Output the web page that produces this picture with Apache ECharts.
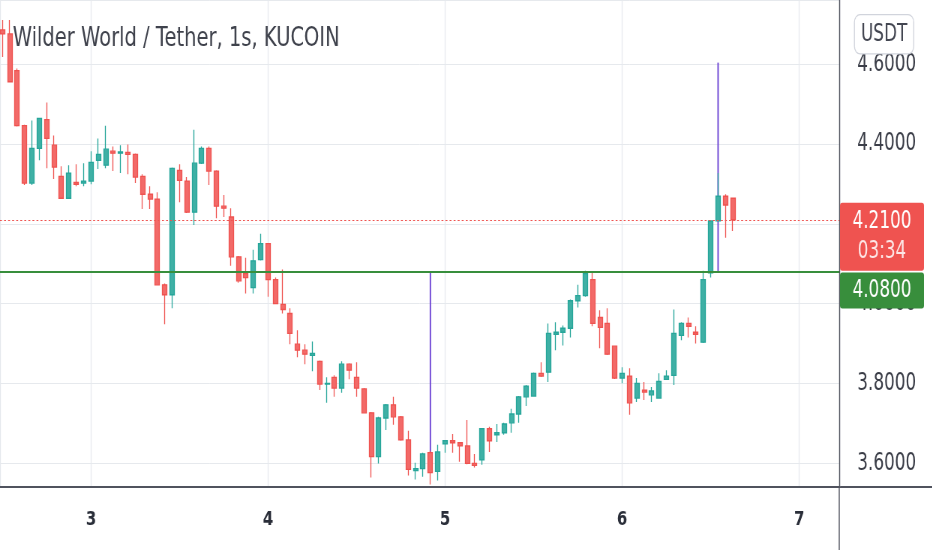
<!DOCTYPE html>
<html><head><meta charset="utf-8">
<script src="https://cdn.jsdelivr.net/npm/echarts@6/dist/echarts.min.js"></script>
<style>
html,body{margin:0;padding:0;background:#fff;overflow:hidden;width:932px;height:550px}
#c{width:1243px;height:550px;transform:scaleX(0.75);transform-origin:0 0}
</style>
</head><body><div id="c"></div>
<script>
// ---- data ----
const chartTitle = 'Wilder World / Tether, 1s, KUCOIN';
const currency = 'USDT';
const startTime = 2.5;      // first candle: day 2, 12:00
const hoursPerDay = 24;     // one candle per hour
const openP  = [4.686,4.676,4.584,4.446,4.302,4.389,4.461,4.397,4.319,4.264,4.304,4.302,4.307,4.359,4.347,4.382,4.377,4.379,4.374,4.319,
                4.274,4.262,4.047,4.022,4.334,4.307,4.229,4.352,4.389,4.332,4.244,4.217,4.117,4.075,4.040,4.110,4.150,4.060,3.998,3.975,
                3.898,3.883,3.870,3.855,3.798,3.815,3.788,3.848,3.815,3.786,3.726,3.616,3.713,3.746,3.716,3.658,3.581,3.586,3.626,3.579,
                3.648,3.656,3.651,3.643,3.599,3.608,3.686,3.671,3.676,3.701,3.723,3.766,3.768,3.825,3.828,3.923,3.928,3.938,4.007,4.020,
                4.060,3.965,3.950,3.893,3.813,3.818,3.763,3.783,3.771,3.763,3.810,3.820,3.920,3.950,3.928,3.903,4.077,4.207,4.269,4.264];
const closeP = [4.676,4.556,4.446,4.302,4.389,4.464,4.414,4.342,4.264,4.327,4.299,4.307,4.354,4.374,4.387,4.377,4.380,4.374,4.317,4.274,
                4.262,4.047,4.022,4.339,4.309,4.229,4.352,4.389,4.332,4.244,4.239,4.117,4.057,4.065,4.107,4.150,4.060,4.000,3.985,3.925,
                3.883,3.873,3.875,3.798,3.800,3.788,3.848,3.833,3.788,3.726,3.616,3.713,3.746,3.716,3.658,3.584,3.586,3.623,3.576,3.628,
                3.656,3.651,3.643,3.599,3.594,3.686,3.656,3.676,3.698,3.723,3.766,3.793,3.825,3.818,3.925,3.928,3.938,4.007,4.020,4.075,
                3.950,3.940,3.873,3.813,3.825,3.751,3.800,3.778,3.781,3.805,3.818,3.925,3.950,3.943,3.923,4.060,4.207,4.269,4.247,4.210];
const lowP   = [4.618,4.556,4.444,4.297,4.297,4.359,4.339,4.312,4.262,4.262,4.294,4.294,4.299,4.337,4.339,4.332,4.327,4.324,4.302,4.237,
                4.237,4.045,3.948,3.988,4.254,4.227,4.197,4.350,4.297,4.214,4.217,4.095,4.052,4.025,4.025,4.108,4.017,3.998,3.975,3.898,
                3.865,3.848,3.830,3.783,3.751,3.766,3.776,3.810,3.766,3.724,3.564,3.599,3.683,3.696,3.656,3.569,3.559,3.566,3.546,3.556,
                3.626,3.626,3.603,3.597,3.589,3.596,3.628,3.653,3.671,3.676,3.701,3.743,3.766,3.816,3.803,3.883,3.895,3.915,3.990,4.017,
                3.943,3.888,3.871,3.811,3.800,3.721,3.753,3.758,3.753,3.761,3.808,3.796,3.908,3.915,3.900,3.901,4.065,4.205,4.165,4.182];
const highP  = [4.711,4.711,4.589,4.448,4.459,4.466,4.504,4.421,4.344,4.347,4.349,4.352,4.382,4.414,4.446,4.394,4.397,4.399,4.376,4.324,
                4.294,4.279,4.050,4.341,4.349,4.317,4.436,4.394,4.394,4.334,4.272,4.239,4.119,4.115,4.135,4.175,4.152,4.065,4.085,3.988,
                3.933,3.898,3.905,3.857,3.815,3.820,3.855,3.850,3.853,3.788,3.728,3.716,3.748,3.766,3.718,3.681,3.601,3.626,3.631,3.646,
                3.658,3.673,3.653,3.708,3.623,3.688,3.691,3.698,3.701,3.736,3.768,3.796,3.827,3.853,3.950,3.953,3.945,4.010,4.047,4.082,
                4.080,3.983,3.988,3.895,3.840,3.838,3.813,3.803,3.791,3.825,3.833,3.985,3.953,3.965,3.943,4.082,4.209,4.327,4.274,4.266];
const lastPrice = 4.21;
const countdown = '03:34';
const levelPrice = 4.08;
// trend lines drawn at a candle: [candle index, from price, to price]
const trendLines = [[58, 4.08, 3.626], [97, 4.08, 4.604]];

// ---- chart ----
const FONT = '"DejaVu Sans Condensed", "DejaVu Sans", sans-serif';
const FONT_W = '"DejaVu Sans", sans-serif';
const UP = '#26a69a', DOWN = '#ef5350', LEVEL = '#388e3c', TREND = '#6c44d4';
const timeOf = i => startTime + i / hoursPerDay;
const candles = openP.map((o, i) => [timeOf(i), o, closeP[i], lowP[i], highP[i]]);

const trendSeries = trendLines.map((t, k) => ({
  type: 'line', z: 1, silent: true, showSymbol: false, animation: false,
  lineStyle: { color: TREND, width: 1.9 },
  data: [[timeOf(t[0]), t[1]], [timeOf(t[0]), t[2]]],
  markLine: k === 0 ? {
    symbol: 'none', silent: true, animation: false,
    data: [
      { yAxis: lastPrice, lineStyle: { color: DOWN, type: [2.6, 2.8], width: 1 },
        label: { show: true, position: 'end', distance: 1, offset: [0, 17],
          formatter: '{p|' + lastPrice.toFixed(4) + '}\n{t|' + countdown + '}',
          backgroundColor: DOWN, borderRadius: 3, padding: [4, 0, 4, 0],
          rich: { p: { width: 112, align: 'center', fontFamily: FONT, fontSize: 25, lineHeight: 30, color: '#fff' },
                  t: { width: 112, align: 'center', fontFamily: FONT, fontSize: 25, lineHeight: 30, color: 'rgba(255,255,255,0.85)' } } } },
      { yAxis: levelPrice, lineStyle: { color: LEVEL, type: 'solid', width: 2 },
        label: { show: true, position: 'end', distance: 1, offset: [0, 19],
          formatter: '{p|' + levelPrice.toFixed(4) + '}',
          backgroundColor: LEVEL, borderRadius: 3, padding: [3, 0, 3, 0],
          rich: { p: { width: 112, align: 'center', fontFamily: FONT, fontSize: 25, lineHeight: 30, color: '#fff' } } } }
    ]
  } : undefined
}));

const chart = echarts.init(document.getElementById('c'), null, { renderer: 'canvas', width: 1243, height: 550 });
chart.setOption({
  animation: false,
  backgroundColor: '#ffffff',
  title: { text: chartTitle, left: 12, top: 21,
    textStyle: { fontFamily: FONT_W, fontSize: 26, fontWeight: 'normal', color: '#3f424c' } },
  grid: { left: 0, right: 124, top: 0, bottom: 63 },
  xAxis: {
    type: 'value', min: 2.486, max: 7.226,
    axisLine: { show: true, lineStyle: { color: '#50535e', width: 2 } },
    axisTick: { show: false },
    splitLine: { show: true, lineStyle: { color: '#e6e9ed', width: 1.3 } },
    axisLabel: { showMinLabel: false, showMaxLabel: false, margin: 23,
      fontFamily: FONT_W, fontSize: 20, fontWeight: 'bold', color: '#2a2e39',
      formatter: v => Number.isInteger(Math.round(v * 1000) / 1000) ? String(Math.round(v)) : '' }
  },
  yAxis: {
    type: 'value', position: 'right', min: 3.540, max: 4.761,
    axisLine: { show: true, lineStyle: { color: '#50535e', width: 1.4 } },
    axisTick: { show: false },
    splitLine: { show: true, lineStyle: { color: '#e6e9ed', width: 1 } },
    axisLabel: { showMinLabel: false, showMaxLabel: false, margin: 24,
      fontFamily: FONT, fontSize: 25, color: '#3b3e48',
      formatter: v => v.toFixed(4) }
  },
  graphic: [
    { type: 'line', silent: true, shape: { x1: 1118, y1: 487, x2: 1243, y2: 487 }, style: { stroke: '#50535e', lineWidth: 2 } },
    { type: 'line', silent: true, shape: { x1: 1119, y1: 487, x2: 1119, y2: 550 }, style: { stroke: '#50535e', lineWidth: 1.4 } },
    { type: 'text', right: 24, top: 14, z: 10,
      style: { text: currency, fontFamily: FONT, fontSize: 25, fill: '#434651',
        backgroundColor: '#fff', borderColor: '#d1d4dc', borderWidth: 1.3, borderRadius: 7, padding: [7, 8, 6, 8] } }
  ],
  series: [
    ...trendSeries,
    {
      type: 'candlestick', z: 2, animation: false,
      dimensions: ['t', 'open', 'close', 'low', 'high'],
      encode: { x: 't', y: ['open', 'close', 'low', 'high'] },
      barWidth: 6.5,
      itemStyle: { color: '#3fb0a5', color0: '#f26a68', borderColor: UP, borderColor0: DOWN, borderWidth: 1.3 },
      data: candles
    }
  ]
});
</script></body></html>
